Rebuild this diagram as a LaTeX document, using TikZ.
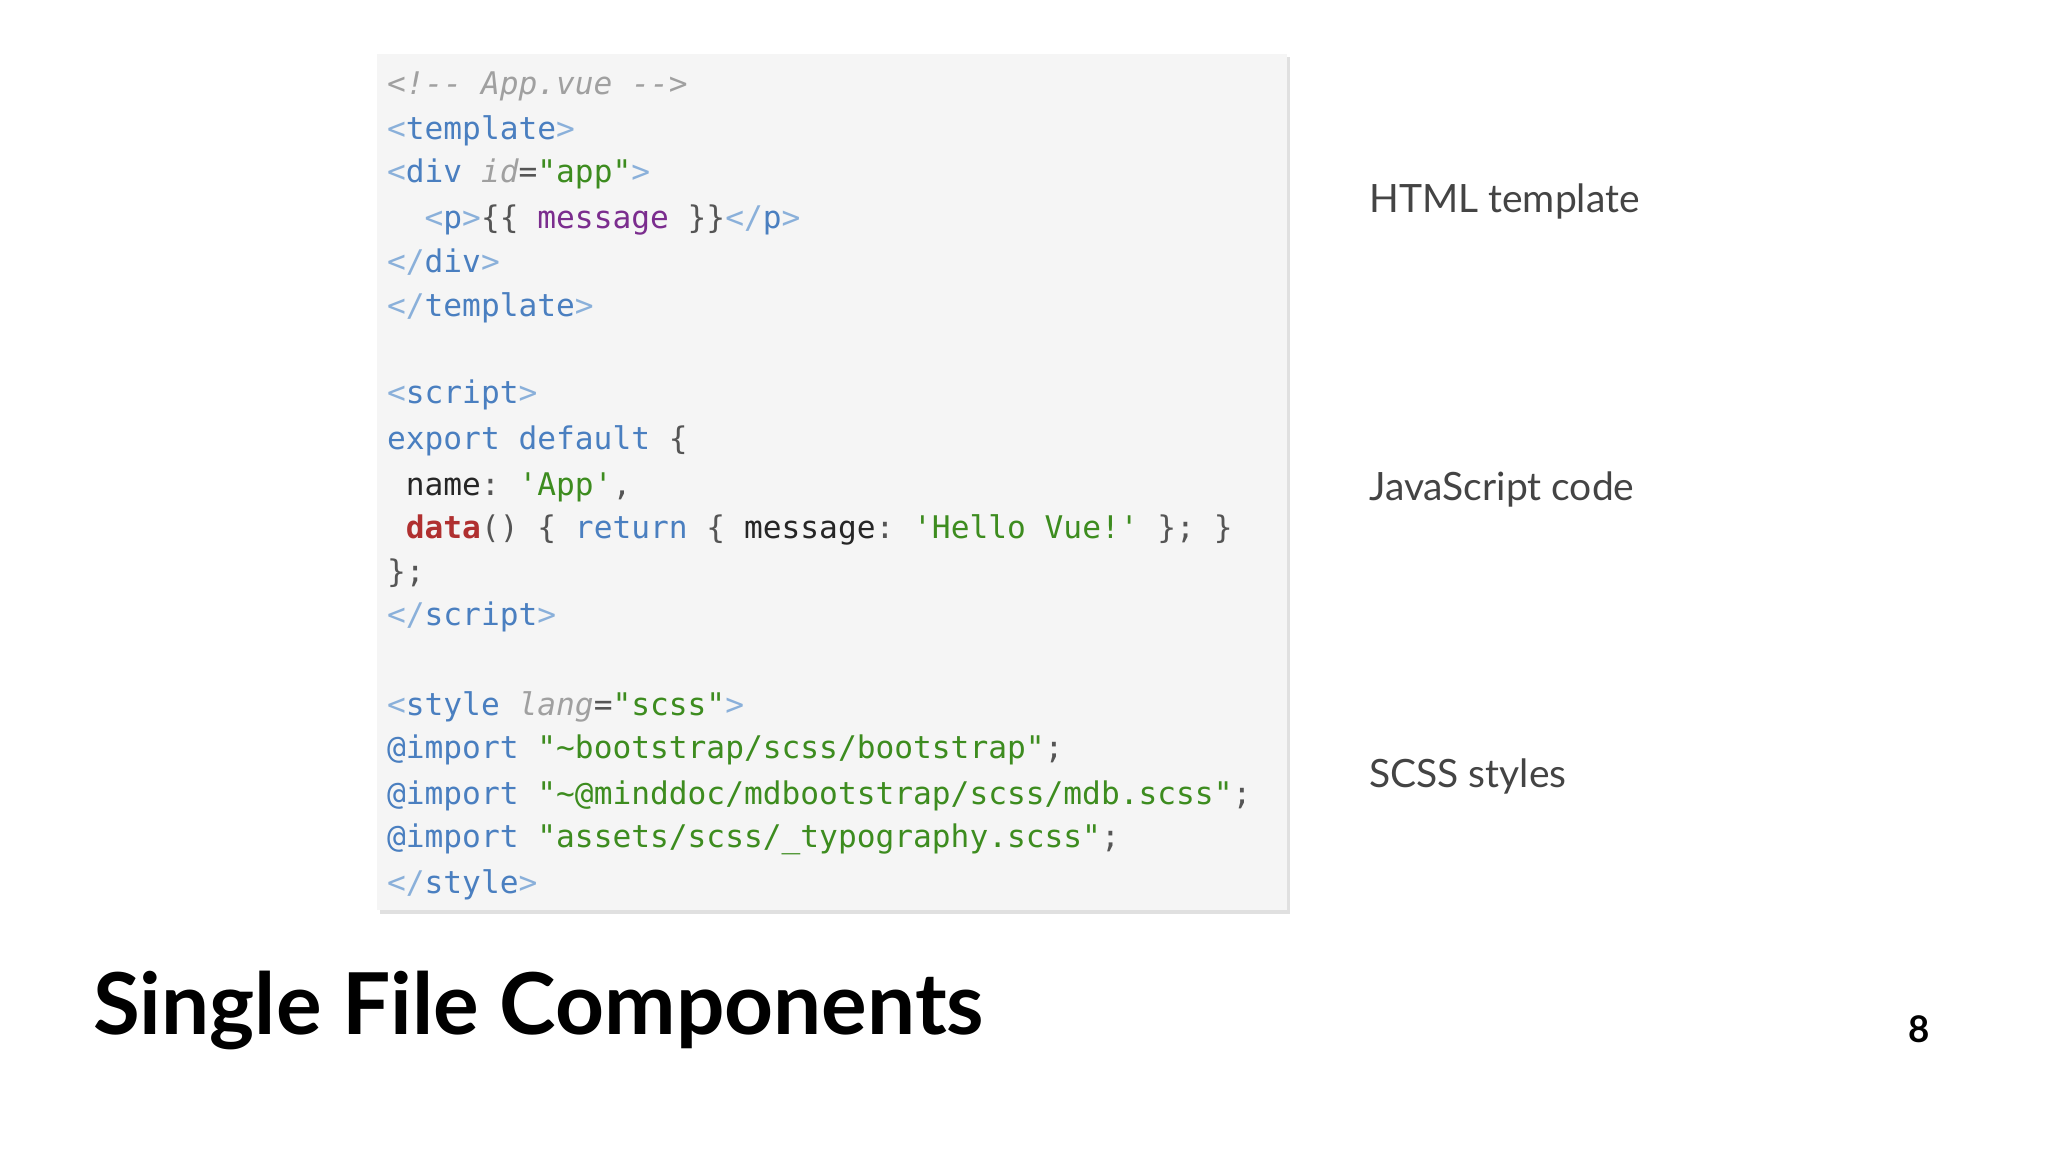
\documentclass[tikz,border=0pt]{standalone}
\usepackage{fontspec}
\setmainfont{Lato}
\setmonofont{DejaVu Sans Mono}
\definecolor{tg}{HTML}{4A7FC0}
\definecolor{br}{HTML}{8AB0DA}
\definecolor{cm}{HTML}{A0A0A0}
\definecolor{tx}{HTML}{555555}
\definecolor{st}{HTML}{3D8C1F}
\definecolor{pu}{HTML}{7B2D8E}
\definecolor{rd}{HTML}{B03030}
\definecolor{bx}{HTML}{F5F5F5}
\definecolor{lb}{HTML}{444444}
\newcommand{\T}[1]{\textcolor{tg}{#1}}
\newcommand{\B}[1]{\textcolor{br}{#1}}
\newcommand{\Sg}[1]{\textcolor{st}{#1}}
\newcommand{\X}[1]{\textcolor{tx}{#1}}
\newcommand{\I}[1]{\textcolor{cm}{\itshape #1}}
\begin{document}
\begin{tikzpicture}[x=0.02cm,y=-0.02cm,
  code/.style={anchor=base west,inner sep=0,font=\fontsize{13.6}{16}\ttfamily,text=tx},
  lbl/.style={anchor=base west,inner sep=0,font=\fontsize{17}{20}\selectfont,text=lb}]
\useasboundingbox (0,0) rectangle (1568,882);
\fill[black!12] (291,44) rectangle (988,700);
\fill[bx] (289,41) rectangle (985,697);
\node[code] (l1) at (296,72) {\I{<!-- App.vue -->}};
\node[code] (l2) at (296,107) {\B{<}\T{template}\B{>}};
\node[code] (l3) at (296,140) {\B{<}\T{div} \I{id}=\Sg{"app"}\B{>}};
\node[code] (l4) at (296,175) {\ \ \B{<}\T{p}\B{>}\{\{ \textcolor{pu}{message} \}\}\B{</}\T{p}\B{>}};
\node[code] (l5) at (296,209) {\B{</}\T{div}\B{>}};
\node[code] (l6) at (296,242) {\B{</}\T{template}\B{>}};
\node[code] (l7) at (296,309) {\B{<}\T{script}\B{>}};
\node[code] (l8) at (296,344) {\T{export default} \{};
\node[code] (l9) at (296,379) {\ \textcolor{black!85}{name}: \Sg{'App'},};
\node[code] (l10) at (296,412) {\ \textcolor{rd}{\bfseries data}() \{ \T{return} \{ \textcolor{black!85}{message}: \Sg{'Hello Vue!'} \}; \}};
\node[code] (l11) at (296,446) {\};};
\node[code] (l12) at (296,479) {\B{</}\T{script}\B{>}};
\node[code] (l13) at (296,548) {\B{<}\T{style} \I{lang}=\Sg{"scss"}\B{>}};
\node[code] (l14) at (296,581) {\T{@import} \Sg{"\textasciitilde bootstrap/scss/bootstrap"};};
\node[code] (l15) at (296,616) {\T{@import} \Sg{"\textasciitilde @minddoc/mdbootstrap/scss/mdb.scss"};};
\node[code] (l16) at (296,649) {\T{@import} \Sg{"assets/scss/\_typography.scss"};};
\node[code] (l17) at (296,684) {\B{</}\T{style}\B{>}};
\node[lbl] (h) at (1048,163) {HTML template};
\node[lbl] (j) at (1048,383) {JavaScript code};
\node[lbl] (s) at (1048,603) {SCSS styles};
\node[anchor=base west,inner sep=0,font=\fontsize{37.2}{44}\bfseries] (title) at (71,792) {Single File Components};
\node[anchor=base,inner sep=0,font=\fontsize{16}{18}\bfseries] (pg) at (1469,798) {8};
\end{tikzpicture}
\end{document}
